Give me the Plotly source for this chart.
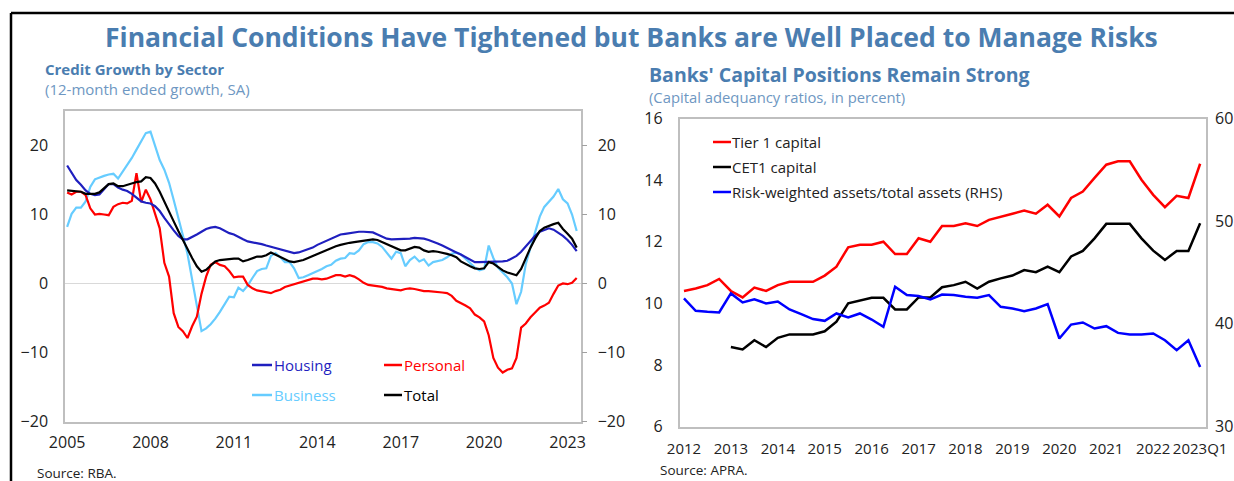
import pandas as pd
import plotly.graph_objects as go

# ---------------- Left panel: credit growth by sector (bi-monthly readings) ----------------
credit_dates = pd.date_range("2005-01-01", periods=111, freq="2MS")

housing = [
    17.1, 16.0, 15.0, 14.3, 13.5, 13.0,
    12.8, 12.9, 13.6, 14.4, 14.4, 13.9,
    13.6, 13.4, 13.0, 12.4, 11.9, 11.7,
    11.6, 11.2, 10.5, 9.5, 8.5, 7.7,
    6.9, 6.4, 6.4, 6.7, 7.1, 7.5,
    7.9, 8.1, 8.2, 8.0, 7.6, 7.3,
    7.1, 6.7, 6.4, 6.1, 6.0, 5.8,
    5.7, 5.5, 5.3, 5.1, 4.9, 4.7,
    4.5, 4.4, 4.5, 4.7, 4.9, 5.2,
    5.6, 5.9, 6.2, 6.5, 6.8, 7.1,
    7.2, 7.3, 7.4, 7.5, 7.5, 7.5,
    7.4, 7.1, 6.8, 6.5, 6.4, 6.4,
    6.4, 6.5, 6.5, 6.6, 6.6, 6.5,
    6.3, 6.1, 5.8, 5.5, 5.2, 4.9,
    4.5, 4.2, 3.8, 3.4, 3.1, 3.1,
    3.1, 3.1, 3.2, 3.2, 3.2, 3.3,
    3.6, 4.0, 4.6, 5.4, 6.2, 6.9,
    7.5, 7.8, 8.0, 7.8, 7.4, 6.9,
    6.3, 5.6, 4.7,
]
personal = [
    13.2, 12.9, 13.3, 13.3, 12.8, 10.9,
    10.0, 10.1, 10.0, 9.9, 11.1, 11.5,
    11.7, 11.6, 12.0, 16.0, 11.8, 13.6,
    12.2, 10.2, 8.0, 3.0, 1.0, -4.3,
    -6.3, -6.9, -7.9, -6.2, -4.8, -1.5,
    1.0, 2.7, 3.1, 2.7, 2.5, 1.8,
    0.9, 1.0, 1.0, -0.2, -0.7, -1.0,
    -1.1, -1.2, -1.4, -1.1, -0.9, -0.5,
    -0.3, -0.1, 0.1, 0.4, 0.6, 0.7,
    0.7, 0.6, 0.7, 1.0, 1.2, 1.2,
    1.0, 1.2, 1.0, 0.6, 0.1, -0.2,
    -0.3, -0.3, -0.5, -0.7, -0.8, -0.8,
    -1.0, -0.8, -0.7, -0.8, -1.0, -1.1,
    -1.1, -1.2, -1.2, -1.3, -1.4, -1.8,
    -2.5, -2.8, -3.2, -3.6, -4.5, -4.9,
    -5.5, -7.5, -10.8, -12.2, -12.9, -12.5,
    -12.3, -10.8, -6.4, -5.8, -4.9, -4.2,
    -3.5, -3.2, -2.8, -1.5, -0.3, 0.0,
    -0.1, 0.1, 0.8,
]
business = [
    8.2, 10.1, 11.0, 11.0, 11.9, 14.0,
    15.1, 15.4, 15.6, 15.8, 15.9, 15.2,
    16.2, 17.1, 18.2, 19.4, 20.7, 21.8,
    22.0, 19.8, 17.9, 16.5, 14.6, 12.1,
    9.3, 7.0, 4.3, 0.8, -3.2, -6.9,
    -6.5, -5.9, -5.1, -4.1, -2.9, -1.9,
    -2.0, -0.6, -1.1, -0.3, 0.8, 1.8,
    2.1, 2.2, 4.0, 4.4, 3.8, 3.1,
    3.1, 2.2, 0.8, 0.9, 1.2, 1.5,
    1.7, 2.1, 2.5, 2.7, 3.3, 3.6,
    3.7, 4.4, 4.3, 4.8, 5.7, 6.0,
    6.0, 5.8, 5.3, 4.4, 3.6, 4.6,
    4.4, 2.5, 3.4, 3.9, 3.2, 3.5,
    2.6, 3.1, 3.2, 3.4, 3.8, 4.3,
    4.5, 4.2, 3.6, 2.9, 2.3, 1.9,
    2.1, 5.5, 3.7, 2.3, 1.6, 0.9,
    0.0, -3.0, -1.2, 2.8, 5.2, 7.5,
    9.7, 11.1, 11.9, 12.6, 13.7, 12.2,
    11.6, 10.0, 7.6,
]
total = [
    13.5, 13.4, 13.4, 13.3, 13.0, 13.0,
    13.0, 13.2, 13.8, 14.4, 14.5, 14.1,
    14.1, 14.3, 14.6, 14.7, 14.8, 15.4,
    15.3, 14.5, 13.3, 11.8, 10.3, 9.0,
    7.6, 6.3, 5.1, 3.7, 2.5, 1.7,
    2.0, 2.6, 3.2, 3.4, 3.5, 3.5,
    3.6, 3.6, 3.2, 3.4, 3.7, 3.9,
    3.9, 4.1, 4.5, 4.2, 3.8, 3.5,
    3.2, 3.1, 3.2, 3.4, 3.7, 4.0,
    4.3, 4.6, 4.9, 5.2, 5.4, 5.6,
    5.8, 5.9, 6.0, 6.1, 6.3, 6.4,
    6.4, 6.3, 6.0, 5.6, 5.3, 5.0,
    4.8, 4.8, 5.0, 5.3, 5.2, 4.8,
    4.6, 4.7, 4.6, 4.5, 4.3, 4.1,
    3.8, 3.2, 2.8, 2.5, 2.2, 2.1,
    2.2, 3.1, 2.9, 2.4, 1.9, 1.6,
    1.4, 1.2, 2.1, 3.7, 5.2, 6.5,
    7.6, 8.1, 8.4, 8.6, 8.8, 7.9,
    7.2, 6.5, 5.2,
]
credit_tick_years = [2005, 2008, 2011, 2014, 2017, 2020, 2023]
credit_y_ticks = [-20, -10, 0, 10, 20]

# ---------------- Right panel: capital ratios (quarterly) ----------------
quarters = [f"{y}Q{q}" for y in range(2012, 2024) for q in range(1, 5)][:45]
tier1 = [10.40, 10.48, 10.59, 10.79, 10.40, 10.19, 10.51, 10.40, 10.59, 10.70,
         10.70, 10.70, 10.90, 11.19, 11.82, 11.90, 11.90, 12.00, 11.60, 11.60,
         12.11, 12.00, 12.51, 12.51, 12.60, 12.51, 12.71, 12.82, 12.91, 13.01,
         12.91, 13.20, 12.82, 13.42, 13.63, 14.07, 14.50, 14.61, 14.61, 14.01,
         13.52, 13.12, 13.49, 13.42, 14.53]
cet1 = [None, None, None, None,
        8.58, 8.50, 8.80, 8.58, 8.88, 8.99, 8.99, 8.99, 9.09, 9.40,
        10.00, 10.10, 10.18, 10.18, 9.80, 9.80, 10.19, 10.19, 10.52, 10.59,
        10.70, 10.48, 10.70, 10.81, 10.90, 11.08, 11.01, 11.19, 11.01, 11.52,
        11.70, 12.11, 12.58, 12.58, 12.58, 12.11, 11.71, 11.41, 11.70, 11.70,
        12.60]
rwa = [42.48, 41.27, 41.17, 41.11, 42.96, 42.08, 42.38, 41.99, 42.18, 41.40,
       40.94, 40.46, 40.29, 41.01, 40.62, 41.01, 40.42, 39.71, 43.62, 42.80,
       42.70, 42.38, 42.85, 42.80, 42.64, 42.54, 42.80, 41.66, 41.50, 41.24,
       41.50, 41.92, 38.57, 39.93, 40.13, 39.54, 39.77, 39.12, 38.96, 38.96,
       39.06, 38.40, 37.43, 38.40, 35.80]
capital_tick_cats = ["2012Q1", "2013Q1", "2014Q1", "2015Q1", "2016Q1", "2017Q1",
                     "2018Q1", "2019Q1", "2020Q1", "2021Q1", "2022Q1", "2023Q1"]
capital_tick_text = ["2012", "2013", "2014", "2015", "2016", "2017",
                     "2018", "2019", "2020", "2021", "2022", "2023Q1"]

# ---------------- styling ----------------
W, H = 1234, 481
FONT = "Open Sans"
TITLE_BLUE = "#4a7db0"
SUB_BLUE = "#6e97c2"
FRAME = "#bfbfbf"
C_HOUSING = "#1f1fbf"
C_PERSONAL = "#ff0000"
C_BUSINESS = "#66ccff"
C_TOTAL = "#000000"

def px(x):
    return x / W

def py(y):
    return 1 - y / H

fig = go.Figure()

fig.add_trace(go.Scatter(x=credit_dates, y=business, mode="lines", name="Business",
                         line=dict(color=C_BUSINESS, width=2.2), xaxis="x", yaxis="y"))
fig.add_trace(go.Scatter(x=credit_dates, y=personal, mode="lines", name="Personal",
                         line=dict(color=C_PERSONAL, width=2.2), xaxis="x", yaxis="y"))
fig.add_trace(go.Scatter(x=credit_dates, y=housing, mode="lines", name="Housing",
                         line=dict(color=C_HOUSING, width=2.2), xaxis="x", yaxis="y"))
fig.add_trace(go.Scatter(x=credit_dates, y=total, mode="lines", name="Total",
                         line=dict(color=C_TOTAL, width=2.2), xaxis="x", yaxis="y3"))

fig.add_trace(go.Scatter(x=quarters, y=tier1, mode="lines", name="Tier 1 capital",
                         line=dict(color="#ff0000", width=2.5), xaxis="x2", yaxis="y2"))
fig.add_trace(go.Scatter(x=quarters, y=cet1, mode="lines", name="CET1 capital",
                         line=dict(color="#000000", width=2.5), xaxis="x2", yaxis="y2"))
fig.add_trace(go.Scatter(x=quarters, y=rwa, mode="lines",
                         name="Risk-weighted assets/total assets (RHS)",
                         line=dict(color="#0000ff", width=2.5), xaxis="x2", yaxis="y4"))

tickfont = dict(family=FONT, size=16, color="#222222")
tickfont_q = dict(family=FONT, size=15, color="#222222")

fig.update_layout(
    width=W, height=H,
    margin=dict(l=0, r=0, t=0, b=0),
    paper_bgcolor="white", plot_bgcolor="white",
    showlegend=False,
    font=dict(family=FONT, color="#222222"),
    xaxis=dict(
        domain=[px(65), px(580.5)], anchor="y", type="date",
        range=["2004-12-04", "2023-06-20"],
        tickvals=[pd.Timestamp(f"{y}-01-01") for y in credit_tick_years],
        ticktext=[str(y) for y in credit_tick_years],
        showline=True, mirror=True, linecolor=FRAME, linewidth=1.5,
        showgrid=False, zeroline=False, ticks="", tickfont=tickfont,
        tickangle=0, ticklabelstandoff=6, automargin=False,
    ),
    yaxis=dict(
        domain=[py(421.5), py(111)], anchor="x", range=[-20, 25],
        tickvals=credit_y_ticks, showline=True, mirror=True, linecolor=FRAME,
        linewidth=1.5, showgrid=False, zeroline=True, zerolinecolor="#d9d9d9",
        zerolinewidth=1, ticks="", tickfont=tickfont, ticklabelstandoff=12,
        automargin=False,
    ),
    yaxis3=dict(
        overlaying="y", side="right", anchor="x", range=[-20, 25],
        tickvals=credit_y_ticks, showline=False, showgrid=False, zeroline=False,
        ticks="outside", ticklen=5, tickcolor="#a0a0a0", tickfont=tickfont,
        ticklabelstandoff=8, automargin=False,
    ),
    xaxis2=dict(
        domain=[px(679.5), px(1206)], anchor="y2", type="category",
        range=[-0.38, 44.5], tickvals=capital_tick_cats, ticktext=capital_tick_text,
        showline=True, mirror=True, linecolor=FRAME, linewidth=1.5,
        showgrid=False, zeroline=False, ticks="", tickfont=tickfont_q,
        tickangle=0, ticklabelstandoff=8, automargin=False,
    ),
    yaxis2=dict(
        domain=[py(426.5), py(118.5)], anchor="x2", range=[6, 16], dtick=2,
        showline=True, mirror=True, linecolor=FRAME, linewidth=1.5,
        showgrid=False, zeroline=False, ticks="", tickfont=tickfont,
        ticklabelstandoff=12, automargin=False,
    ),
    yaxis4=dict(
        overlaying="y2", side="right", anchor="x2", range=[30, 60], dtick=10,
        showline=False, showgrid=False, zeroline=False, ticks="",
        tickfont=tickfont, ticklabelstandoff=8, automargin=False,
    ),
)

# outer black border (top and left)
fig.add_shape(type="line", xref="paper", yref="paper", x0=px(11), x1=1.01,
              y0=py(13), y1=py(13), line=dict(color="black", width=2.5))
fig.add_shape(type="line", xref="paper", yref="paper", x0=px(11), x1=px(11),
              y0=py(13), y1=-0.02, line=dict(color="black", width=2.5))

ann = []

def text(x, y, s, size, color="#222222", anchor="left", family=FONT):
    ann.append(dict(x=px(x), y=py(y), xref="paper", yref="paper", text=s,
                    showarrow=False, xanchor=anchor, yanchor="middle",
                    font=dict(family=family, size=size, color=color)))

def legend_key(x0, x1, y, color, width=2.5):
    fig.add_shape(type="line", xref="paper", yref="paper", x0=px(x0), x1=px(x1),
                  y0=py(y), y1=py(y), line=dict(color=color, width=width))

text(631, 37, "<b>Financial Conditions Have Tightened but Banks are Well Placed to Manage Risks</b>",
     26.5, TITLE_BLUE, "center")
text(43, 69, "<b>Credit Growth by Sector</b>", 15, TITLE_BLUE)
text(43, 89, "(12-month ended growth, SA)", 15, SUB_BLUE)
text(647, 74, "<b>Banks' Capital Positions Remain Strong</b>", 19.5, TITLE_BLUE)
text(647, 97, "(Capital adequancy ratios, in percent)", 14.8, SUB_BLUE)
text(35, 473, "Source: RBA.", 13.5)
text(658, 470, "Source: APRA.", 13.5)

# left panel legend
legend_key(252, 272, 365, C_HOUSING)
text(272, 365, "Housing", 15, C_HOUSING)
legend_key(384, 402, 365, C_PERSONAL)
text(402, 365, "Personal", 15, C_PERSONAL)
legend_key(252, 272, 395, C_BUSINESS)
text(272, 395, "Business", 15, C_BUSINESS)
legend_key(384, 402, 395, C_TOTAL)
text(402, 395, "Total", 15, C_TOTAL)

# right panel legend
legend_key(713, 731, 142, "#ff0000")
text(730, 142, "Tier 1 capital", 15)
legend_key(713, 731, 167, "#000000")
text(730, 167, "CET1 capital", 15)
legend_key(713, 731, 192, "#0000ff")
text(730, 192, "Risk-weighted assets/total assets (RHS)", 15)

fig.update_layout(annotations=ann)

fig.write_html("out.html", config={"displayModeBar": False},
               post_script="document.body.style.margin='0';")
